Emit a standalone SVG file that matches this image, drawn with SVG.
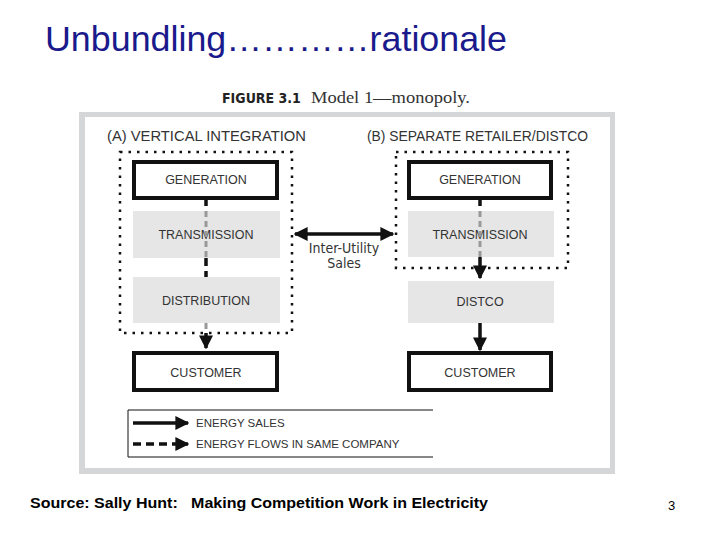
<svg xmlns="http://www.w3.org/2000/svg" width="720" height="540" viewBox="0 0 720 540">
<defs>
<marker id="ah" viewBox="0 0 10 10" refX="9" refY="5" markerWidth="4" markerHeight="4" orient="auto-start-reverse"><path d="M0,0L10,5L0,10z" fill="#111"/></marker>
<style>
.f{font-family:"Liberation Sans",Arial,sans-serif}
.n{font-family:"Liberation Sans",Arial,sans-serif;font-size:12.5px;fill:#333;text-anchor:middle}
.bx{fill:#fff;stroke:#111;stroke-width:4}
.gy{fill:#e6e6e6}
.dot{fill:none;stroke:#111;stroke-width:2.5;stroke-dasharray:2.5 6}
.sol{stroke:#111;stroke-width:3.5;fill:none}
.dsh{stroke:#111;stroke-width:3.5;fill:none;stroke-dasharray:8 5}
</style>
</defs>
<rect width="720" height="540" fill="#fff"/>
<text class="f" x="45" y="51" font-size="35" fill="#1a1a8c" textLength="462" lengthAdjust="spacingAndGlyphs">Unbundling…………rationale</text>
<text x="222" y="103" font-family="'DejaVu Sans Condensed','Liberation Sans Narrow',sans-serif" font-weight="bold" font-size="14" fill="#222">FIGURE 3.1</text>
<text x="311" y="103" font-family="'Liberation Serif',serif" font-size="17" fill="#333" textLength="159" lengthAdjust="spacingAndGlyphs">Model 1—monopoly.</text>
<rect x="79" y="112" width="536" height="362" fill="#d4d6d8"/>
<rect x="85" y="117" width="525" height="351" fill="#fff"/>
<text class="f" x="107" y="141" font-size="15" fill="#333" textLength="199" lengthAdjust="spacingAndGlyphs">(A) VERTICAL INTEGRATION</text>
<text class="f" x="367" y="141" font-size="15" fill="#333" textLength="221" lengthAdjust="spacingAndGlyphs">(B) SEPARATE RETAILER/DISTCO</text>
<rect class="dot" x="120" y="152" width="172" height="181"/>
<rect class="dot" x="396" y="152" width="172" height="116"/>
<g id="genA"><rect class="bx" x="134" y="162" width="143" height="36"/><text class="n" x="206" y="184">GENERATION</text></g>
<g id="trA"><rect class="gy" x="133" y="211" width="147" height="47"/><text class="n" x="206" y="239">TRANSMISSION</text></g>
<g id="diA"><rect class="gy" x="133" y="277" width="147" height="46"/><text class="n" x="206" y="305">DISTRIBUTION</text></g>
<g id="cuA"><rect class="bx" x="134" y="353" width="143" height="37"/><text class="n" x="206" y="377">CUSTOMER</text></g>
<g id="genB"><rect class="bx" x="409" y="162" width="142" height="36"/><text class="n" x="480" y="184">GENERATION</text></g>
<g id="trB"><rect class="gy" x="408" y="211" width="146" height="46"/><text class="n" x="480" y="239">TRANSMISSION</text></g>
<g id="diB"><rect class="gy" x="408" y="281" width="146" height="42"/><text class="n" x="480" y="306">DISTCO</text></g>
<g id="cuB"><rect class="bx" x="409" y="353" width="142" height="37"/><text class="n" x="480" y="377">CUSTOMER</text></g>
<g id="connectors">
<path class="dsh" d="M206,198V211M206,258V277"/>
<path d="M206,211V258M206,323V333" stroke="#999" stroke-width="3" stroke-dasharray="6 4"/>
<path class="sol" d="M206,333V348" marker-end="url(#ah)"/>
<path class="dsh" d="M480,198V211"/>
<path d="M480,211V257" stroke="#999" stroke-width="3" stroke-dasharray="6 4"/>
<path class="sol" d="M480,257V278" marker-end="url(#ah)"/>
<path class="sol" d="M480,323V350" marker-end="url(#ah)"/>
<path class="sol" d="M295,234H393" marker-start="url(#ah)" marker-end="url(#ah)"/>
</g>
<text x="344" y="253" text-anchor="middle" font-family="'Liberation Sans Narrow','DejaVu Sans Condensed',sans-serif" font-size="14" fill="#333">Inter-Utility</text>
<text x="344" y="268" text-anchor="middle" font-family="'Liberation Sans Narrow','DejaVu Sans Condensed',sans-serif" font-size="14" fill="#333">Sales</text>
<g id="legend">
<path d="M433,410H128V457H433" fill="none" stroke="#111" stroke-width="1"/>
<path class="sol" d="M133,423H188" stroke-width="3" marker-end="url(#ah)"/>
<path class="dsh" d="M133,444H188" stroke-width="3" stroke-dasharray="7 4" marker-end="url(#ah)"/>
<text class="f" x="196" y="427" font-size="11.5" fill="#333">ENERGY SALES</text>
<text class="f" x="196" y="448" font-size="11.5" fill="#333">ENERGY FLOWS IN SAME COMPANY</text>
</g>
<text class="f" x="30" y="508" font-size="14.5" font-weight="bold" fill="#000" xml:space="preserve" textLength="458" lengthAdjust="spacingAndGlyphs">Source: Sally Hunt:   Making Competition Work in Electricity</text>
<text class="f" x="668" y="510" font-size="13" fill="#000">3</text>
</svg>
